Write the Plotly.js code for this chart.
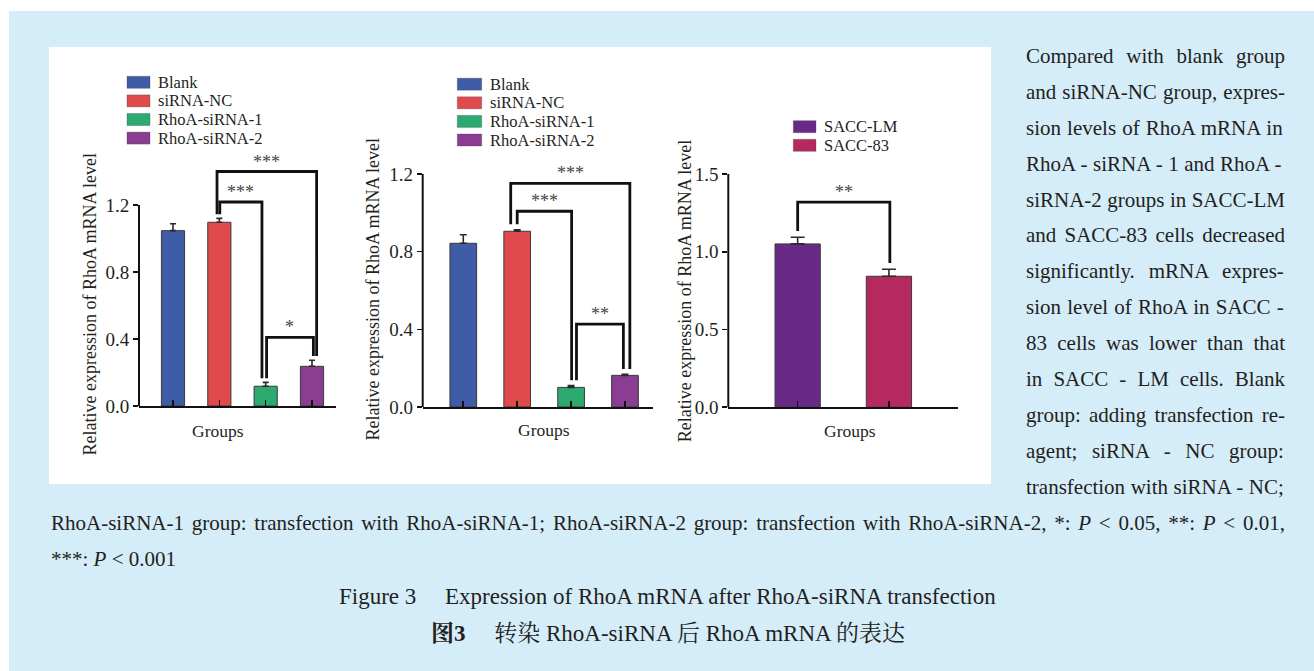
<!DOCTYPE html>
<html>
<head>
<meta charset="utf-8">
<script src="https://cdn.plot.ly/plotly-3.0.1.min.js"></script>
<style>
html,body{margin:0;padding:0;background:#fff;}
#chart{width:1314px;height:671px;}
</style>
</head>
<body>
<div id="chart"></div>
<script>
// ---------------- DATA ----------------
const groupsA = ['Blank', 'siRNA-NC', 'RhoA-siRNA-1', 'RhoA-siRNA-2'];
const groupsB = ['SACC-LM', 'SACC-83'];

// Panel 1 (SACC-LM cells)
const panel1Values = [1.047, 1.097, 0.118, 0.237];
const panel1Errors = [0.041, 0.023, 0.023, 0.036];
// Panel 2 (SACC-83 cells)
const panel2Values = [0.843, 0.905, 0.101, 0.163];
const panel2Errors = [0.044, 0.008, 0.009, 0.005];
// Panel 3 (cell lines)
const panel3Values = [1.050, 0.842];
const panel3Errors = [0.043, 0.045];

const tickVals12 = [0, 0.4, 0.8, 1.2];
const tickText12 = ['0.0', '0.4', '0.8', '1.2'];
const tickVals15 = [0, 0.5, 1.0, 1.5];
const tickText15 = ['0.0', '0.5', '1.0', '1.5'];

// significance comparisons: [from, to], bracket height, label
const panel1Pairs = [[1, 3], [1, 2], [2, 3]];
const panel1BracketY = [1.400, 1.218, 0.410];
const panel1Labels = ['***', '***', '*'];
const panel2Pairs = [[1, 3], [1, 2], [2, 3]];
const panel2BracketY = [1.152, 1.008, 0.427];
const panel2Labels = ['***', '***', '**'];
const panel3Pairs = [[0, 1]];
const panel3BracketY = [1.319];
const panel3Labels = ['**'];

const yTitleText = 'Relative expression of RhoA mRNA level';
const xTitleText = 'Groups';

const sideLines = [
  'Compared with blank group',
  'and siRNA-NC group, expres-',
  'sion levels of RhoA mRNA in',
  'RhoA - siRNA - 1 and RhoA -',
  'siRNA-2 groups in SACC-LM',
  'and SACC-83 cells decreased',
  'significantly. mRNA expres-',
  'sion level of RhoA in SACC -',
  '83 cells was lower than that',
  'in SACC - LM cells. Blank',
  'group: adding transfection re-',
  'agent; siRNA - NC group:',
  'transfection with siRNA - NC;'
];
const bottomLines = [
  'RhoA-siRNA-1 group: transfection with RhoA-siRNA-1; RhoA-siRNA-2 group: transfection with RhoA-siRNA-2, *: P < 0.05, **: P < 0.01,',
  '***: P < 0.001'
];
const captionEn = 'Figure 3\u2003 Expression of RhoA mRNA after RhoA-siRNA transfection';
const captionZhLabel = '图3';
const captionZh = '转染 RhoA-siRNA 后 RhoA mRNA 的表达';

// ---------------- STYLE / LAYOUT ----------------
const W = 1314, H = 671;
const px = x => x / W;
const py = y => 1 - y / H;
const SERIF = '"Liberation Serif", "Times New Roman", serif';
const TXT = '#231f20';
const colorsA = ['#3f5ca6', '#e14a4c', '#2daa6f', '#8a3d91'];
const colorsB = ['#682a86', '#b6295e'];

const panels = [
  {values: panel1Values, errors: panel1Errors, groups: groupsA, colors: colorsA,
   pairs: panel1Pairs, bracketY: panel1BracketY, labels: panel1Labels,
   tickVals: tickVals12, tickText: tickText12,
   left: 139, right: 336, bottom: 406, ppu: 167.5, yMax: 1.5,
   xRange: [-0.734, 3.518], barWidth: 0.5, errWidth: 3, gap: 0.025,
   legOffsets: [[-0.05, 0.10], [0.01, -0.08], [0.02, 0.03]],
   legend: {sw: [127, 150], top: 82.3, step: 18.6, textX: 157},
   yTitle: [89, 304.5], xTitle: [218, 431]},
  {values: panel2Values, errors: panel2Errors, groups: groupsA, colors: colorsA,
   pairs: panel2Pairs, bracketY: panel2BracketY, labels: panel2Labels,
   tickVals: tickVals12, tickText: tickText12,
   left: 422.7, right: 652.7, bottom: 407, ppu: 194.2, yMax: 1.32,
   xRange: [-0.753, 3.514], barWidth: 0.495, errWidth: 3.5, gap: 0.028,
   legOffsets: [[-0.12, 0.09], [0.0, 0.01], [0.10, -0.03]],
   legend: {sw: [457.3, 481.7], top: 84.2, step: 18.6, textX: 489.3},
   yTitle: [372, 289.5], xTitle: [544, 429.5]},
  {values: panel3Values, errors: panel3Errors, groups: groupsB, colors: colorsB,
   pairs: panel3Pairs, bracketY: panel3BracketY, labels: panel3Labels,
   tickVals: tickVals15, tickText: tickText15,
   left: 728.3, right: 958.3, bottom: 407.3, ppu: 155.6, yMax: 1.6,
   xRange: [-0.76, 1.76], barWidth: 0.496, errWidth: 7, gap: 0.04,
   legOffsets: [[0.0, 0.01]],
   legend: {sw: [793.3, 816], top: 126.7, step: 18.6, textX: 823.3},
   yTitle: [685, 291.3], xTitle: [850, 431]}
];

const traces = [];
const shapes = [];
const annotations = [];
const layout = {
  width: W, height: H,
  margin: {l: 0, r: 0, t: 0, b: 0, pad: 0},
  paper_bgcolor: '#ffffff',
  plot_bgcolor: 'rgba(0,0,0,0)',
  showlegend: false,
  font: {family: SERIF, color: TXT},
  hovermode: false
};

// background boxes
shapes.push({type: 'rect', xref: 'paper', yref: 'paper', x0: px(9), x1: px(1314), y0: py(671), y1: py(11),
  fillcolor: '#d5ecf9', line: {width: 0}, layer: 'below'});
shapes.push({type: 'rect', xref: 'paper', yref: 'paper', x0: px(49), x1: px(991), y0: py(484), y1: py(47),
  fillcolor: '#ffffff', line: {width: 0}, layer: 'below'});

panels.forEach((p, i) => {
  const n = i === 0 ? '' : String(i + 1);
  const xa = 'x' + n, ya = 'y' + n;
  const xIdx = p.values.map((_, k) => k);
  traces.push({
    type: 'bar', x: xIdx, y: p.values, xaxis: xa, yaxis: ya,
    width: p.barWidth,
    marker: {color: p.colors, line: {color: '#3a3a3a', width: 1}},
    error_y: {type: 'data', array: p.errors, arrayminus: p.values.map(() => 0), symmetric: false,
      color: '#2a2a2a', thickness: 1.6, width: p.errWidth},
    hoverinfo: 'skip', showlegend: false
  });
  const top = p.bottom - p.yMax * p.ppu;
  layout['xaxis' + n] = {
    type: 'linear', domain: [px(p.left), px(p.right)], range: p.xRange, anchor: ya,
    showline: true, linecolor: '#111', linewidth: 2,
    ticks: 'inside', ticklen: 6, tickwidth: 1.6, tickcolor: '#111',
    tickvals: xIdx, showticklabels: false, showgrid: false, zeroline: false, fixedrange: true
  };
  layout['yaxis' + n] = {
    type: 'linear', domain: [py(p.bottom), py(top)], range: [0, p.yMax], anchor: xa,
    showline: false, ticks: 'outside', ticklen: 5, tickwidth: 1.6, tickcolor: '#111',
    tickvals: p.tickVals, ticktext: p.tickText,
    tickfont: {family: SERIF, size: 19, color: TXT},
    showgrid: false, zeroline: false, fixedrange: true
  };
  // y axis line only up to the last tick
  shapes.push({type: 'line', xref: xa + ' domain', yref: ya, x0: 0, x1: 0,
    y0: 0, y1: p.tickVals[p.tickVals.length - 1], line: {color: '#111', width: 2}});

  // significance brackets
  p.pairs.forEach((pr, k) => {
    const [a, b] = pr;
    const xl = a + p.legOffsets[k][0], xr = b + p.legOffsets[k][1];
    const yl = p.values[a] + p.errors[a] + p.gap;
    const yr = p.values[b] + p.errors[b] + p.gap;
    const yt = p.bracketY[k];
    shapes.push({type: 'path', xref: xa, yref: ya,
      path: `M${xl},${yl} L${xl},${yt} L${xr},${yt} L${xr},${yr}`,
      line: {color: '#111', width: 2.8}});
    annotations.push({xref: xa, yref: ya, x: (xl + xr) / 2, y: yt, text: p.labels[k],
      showarrow: false, xanchor: 'center', yanchor: 'bottom', yshift: -2,
      font: {family: SERIF, size: 18, color: '#444'}});
  });

  // legend (swatches + labels)
  p.groups.forEach((g, k) => {
    const yc = p.legend.top + k * p.legend.step;
    shapes.push({type: 'rect', xref: 'paper', yref: 'paper',
      x0: px(p.legend.sw[0]), x1: px(p.legend.sw[1]), y0: py(yc + 6), y1: py(yc - 6),
      fillcolor: p.colors[k], line: {color: 'rgba(60,60,60,0.5)', width: 0.6}});
    annotations.push({xref: 'paper', yref: 'paper', x: px(p.legend.textX), y: py(yc),
      text: g, showarrow: false, xanchor: 'left', yanchor: 'middle', borderpad: 0,
      font: {family: SERIF, size: 16.5, color: TXT}});
  });

  // axis titles
  annotations.push({xref: 'paper', yref: 'paper', x: px(p.yTitle[0]), y: py(p.yTitle[1]),
    text: yTitleText, textangle: -90, showarrow: false, xanchor: 'center', yanchor: 'middle',
    font: {family: SERIF, size: 18, color: TXT}});
  annotations.push({xref: 'paper', yref: 'paper', x: px(p.xTitle[0]), y: py(p.xTitle[1]),
    text: xTitleText, showarrow: false, xanchor: 'center', yanchor: 'middle',
    font: {family: SERIF, size: 17.5, color: TXT}});
});

// ---------------- justified body text ----------------
const ctx = document.createElement('canvas').getContext('2d');
function measure(str, size, italic) {
  ctx.font = (italic ? 'italic ' : '') + size + 'px "Liberation Serif"';
  return ctx.measureText(str).width;
}
function esc(s) { return s.replace(/&/g, '&amp;').replace(/</g, '&lt;').replace(/>/g, '&gt;'); }
function lineHtml(text, size, width, justify) {
  const tokens = text.split(/(\bP\b)/);
  let natural = 0;
  tokens.forEach(t => { natural += measure(t, size, t === 'P'); });
  const spaces = (text.match(/ /g) || []).length;
  const body = tokens.map(t => t === 'P' ? '<i>P</i>' : esc(t)).join('');
  if (!justify || spaces === 0) return body;
  const ws = (width - natural) / spaces;
  return `<span style="word-spacing:${ws.toFixed(2)}px">${body}</span>`;
}
const BODY = 21;
sideLines.forEach((t, i) => {
  annotations.push({xref: 'paper', yref: 'paper', x: px(1024), y: py(56 + i * 35.9),
    text: lineHtml(t, BODY, 259, true), showarrow: false, xanchor: 'left', yanchor: 'middle',
    font: {family: SERIF, size: BODY, color: TXT}});
});
bottomLines.forEach((t, i) => {
  annotations.push({xref: 'paper', yref: 'paper', x: px(49), y: py(522.7 + i * 35.9),
    text: lineHtml(t, BODY, 1234, i === 0), showarrow: false, xanchor: 'left', yanchor: 'middle',
    font: {family: SERIF, size: BODY, color: TXT}});
});

// captions
annotations.push({xref: 'paper', yref: 'paper', x: px(667), y: py(596), text: captionEn,
  showarrow: false, xanchor: 'center', yanchor: 'middle',
  font: {family: SERIF, size: 23, color: TXT}});
annotations.push({xref: 'paper', yref: 'paper', x: px(667.5), y: py(633),
  text: '<b>' + captionZhLabel + '</b>\u2003 ' + captionZh,
  showarrow: false, xanchor: 'center', yanchor: 'middle',
  font: {family: '"Liberation Serif", "Noto Serif CJK SC", "Noto Sans CJK SC", serif', size: 23, color: TXT}});

layout.shapes = shapes;
layout.annotations = annotations;

Plotly.newPlot('chart', traces, layout, {displayModeBar: false, staticPlot: true});
</script>
</body>
</html>
